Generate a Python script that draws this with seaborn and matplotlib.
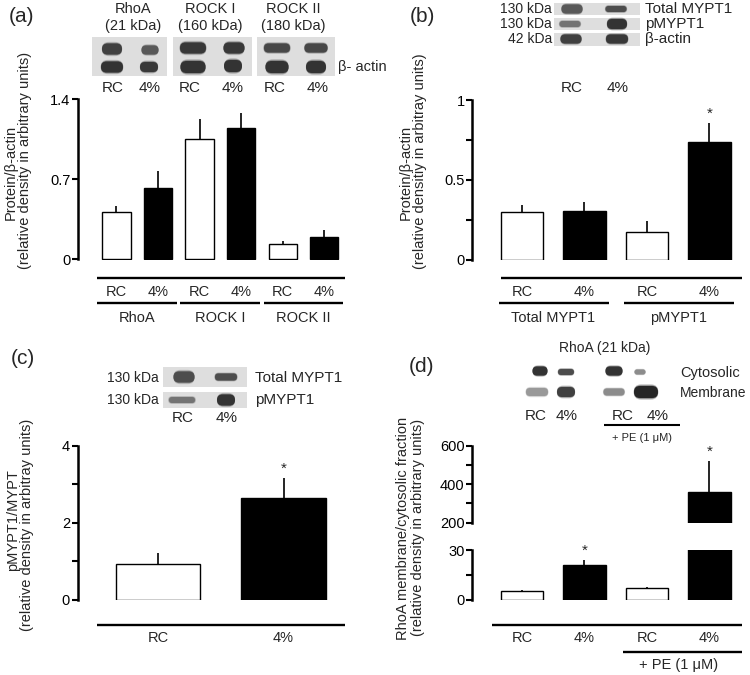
import numpy as np
import pandas as pd
import matplotlib
matplotlib.use('Agg')
import matplotlib.pyplot as plt
import seaborn as sns
from matplotlib import transforms
from matplotlib.patches import FancyBboxPatch, Rectangle
from matplotlib.ticker import FixedLocator

sns.set_style('ticks')
plt.rcParams['font.family'] = ['Liberation Sans', 'DejaVu Sans']

# ---------------- data ----------------
a_labels = ['RC', '4%', 'RC', '4%', 'RC', '4%']
a_groups = ['RhoA', 'ROCK I', 'ROCK II']
a_values = [0.415, 0.623, 1.055, 1.148, 0.136, 0.197]
a_sem = [0.052, 0.154, 0.177, 0.130, 0.026, 0.061]
a_yticks = [0, 0.7, 1.4]
a_yticklabels = ['0', '0.7', '1.4']

b_labels = ['RC', '4%', 'RC', '4%']
b_groups = ['Total MYPT1', 'pMYPT1']
b_values = [0.297, 0.304, 0.173, 0.736]
b_sem = [0.042, 0.058, 0.070, 0.118]
b_sig = [False, False, False, True]
b_yticks = [0, 0.5, 1]
b_yticklabels = ['0', '0.5', '1']
b_minor = [0.25, 0.75]

c_labels = ['RC', '4%']
c_values = [0.914, 2.638]
c_sem = [0.293, 0.517]
c_sig = [False, True]
c_yticks = [0, 2, 4]
c_yticklabels = ['0', '2', '4']
c_minor = [1, 3]

d_labels = ['RC', '4%', 'RC', '4%']
d_group = '+ PE (1 \u03bcM)'
d_values = [5.6, 20.7, 7.0, 359.0]
d_sem = [0.6, 3.3, 0.9, 163.0]
d_sig = [False, True, False, True]
d_low_ticks = [0, 30]
d_low_minor = [15]
d_up_ticks = [200, 400, 600]
d_up_minor = [300, 500]

W, H = 750, 675
fig = plt.figure(figsize=(7.5, 6.75), dpi=100)

# overlay in pixel coordinates for blots and free text
ov = fig.add_axes([0, 0, 1, 1], zorder=0)
ov.set_xlim(0, W)
ov.set_ylim(H, 0)
ov.axis('off')


def px_axes(x0, x1, ytop, ybot):
    ax = fig.add_axes([x0 / W, 1 - ybot / H, (x1 - x0) / W, (ybot - ytop) / H], zorder=2)
    ax.patch.set_alpha(0)
    return ax


def draw_bars(ax, labels, values, sem, width):
    ids = [str(i) for i in range(len(values))]
    df = pd.DataFrame({'bar': ids, 'value': values})
    colors = ['white' if l == 'RC' else 'black' for l in labels]
    sns.barplot(data=df, x='bar', y='value', hue='bar', palette=colors, legend=False,
                width=width, edgecolor='black', linewidth=1.0, saturation=1,
                errorbar=None, ax=ax)
    ax.errorbar(range(len(values)), values, yerr=[np.zeros(len(values)), sem],
                fmt='none', ecolor='black', elinewidth=1.2, capsize=0, zorder=1)


def style(ax, xlim, ylim, bounds, ticks, ticklabels, minor=None):
    ax.set_xlim(*xlim)
    ax.set_ylim(*ylim)
    for s in ['top', 'right', 'bottom']:
        ax.spines[s].set_visible(False)
    ax.spines['left'].set_linewidth(1.8)
    ax.spines['left'].set_color('black')
    ax.spines['left'].set_bounds(*bounds)
    ax.set_yticks(ticks)
    ax.set_yticklabels(ticklabels)
    if minor:
        ax.yaxis.set_minor_locator(FixedLocator(minor))
    ax.tick_params(axis='y', which='both', direction='out', length=4.5, width=1.5,
                   left=True, pad=1, labelsize=10.5, colors='black')
    ax.set_xticks([])
    ax.set_xlabel('')
    ax.set_ylabel('')


def xtext(ax, x, ypx, s, fs=10.5):
    tr = transforms.blended_transform_factory(ax.transData, fig.transFigure)
    ax.text(x, 1 - ypx / H, s, transform=tr, ha='center', va='center',
            fontsize=fs, clip_on=False)


def xline(ax, x0, x1, ypx, lw=1.7):
    tr = transforms.blended_transform_factory(ax.transData, fig.transFigure)
    ax.plot([x0, x1], [1 - ypx / H] * 2, transform=tr, color='black', lw=lw,
            clip_on=False, solid_capstyle='butt')


def stars(ax, values, sem, sig, fs=11):
    for i, (v, s, g) in enumerate(zip(values, sem, sig)):
        if g:
            ax.annotate('*', xy=(i, v + s), xytext=(0, 1.5), textcoords='offset points',
                        ha='center', va='bottom', fontsize=fs, annotation_clip=False)


# ---------------- panel (a) ----------------
axa = px_axes(78, 345, 99.3, 260.3)
draw_bars(axa, a_labels, a_values, a_sem, 0.68)
style(axa, (-0.925, 5.5), (-0.007, 1.4), (0, 1.4), a_yticks, a_yticklabels)
xline(axa, -0.47, len(a_values) - 1 + 0.49, 278)
for i, l in enumerate(a_labels):
    xtext(axa, i, 292, l)
for g, name in enumerate(a_groups):
    mid = 2 * g + 0.5
    xline(axa, mid - 0.96, mid + 0.96, 303)
    xtext(axa, mid, 318, name)

# ---------------- panel (b) ----------------
axb = px_axes(472.3, 742, 100, 260.3)
draw_bars(axb, b_labels, b_values, b_sem, 0.68)
style(axb, (-0.795, 3.52), (-0.005, 1.0), (0, 1), b_yticks, b_yticklabels, b_minor)
stars(axb, b_values, b_sem, b_sig)
xline(axb, -0.34, 3.52, 278)
for i, l in enumerate(b_labels):
    xtext(axb, i, 292, l)
for g, name in enumerate(b_groups):
    mid = 2 * g + 0.5
    xline(axb, mid - 0.86, mid + 0.9, 303)
    xtext(axb, mid, 318, name)

# ---------------- panel (c) ----------------
axc = px_axes(77.7, 345, 445.7, 600.3)
draw_bars(axc, c_labels, c_values, c_sem, 0.67)
style(axc, (-0.64, 1.49), (-0.02, 4), (0, 4), c_yticks, c_yticklabels, c_minor)
stars(axc, c_values, c_sem, c_sig)
xline(axc, -0.49, 1.49, 625)
for i, l in enumerate(c_labels):
    xtext(axc, i, 638, l)

# ---------------- panel (d) broken axis ----------------
axd_lo = px_axes(472.3, 742, 550, 600.3)
axd_up = px_axes(472.3, 742, 445.7, 522.7)
for ax in (axd_lo, axd_up):
    draw_bars(ax, d_labels, d_values, d_sem, 0.68)
style(axd_lo, (-0.795, 3.52), (-0.3, 30), (0, 30), d_low_ticks, ['0', '30'], d_low_minor)
style(axd_up, (-0.795, 3.52), (200, 600), (200, 600), d_up_ticks, ['200', '400', '600'], d_up_minor)
for i, (v, s, g) in enumerate(zip(d_values, d_sem, d_sig)):
    if g:
        ax = axd_up if v + s > 30 else axd_lo
        ax.annotate('*', xy=(i, v + s), xytext=(0, 1.5), textcoords='offset points',
                    ha='center', va='bottom', fontsize=11, annotation_clip=False)
xline(axd_lo, -0.48, 3.52, 625)
for i, l in enumerate(d_labels):
    xtext(axd_lo, i, 638, l)
xline(axd_lo, 1.62, 3.52, 652)
xtext(axd_lo, 2.5, 665, d_group, fs=10.5)

# ---------------- y labels ----------------
ylab_fs = 10.5
ov.text(11, 172, 'Protein/\u03b2-actin', rotation=90, ha='center', va='center', fontsize=ylab_fs)
ov.text(25, 160, '(relative density in arbitrary units)', rotation=90, ha='center', va='center', fontsize=ylab_fs)
ov.text(406, 172, 'Protein/\u03b2-actin', rotation=90, ha='center', va='center', fontsize=ylab_fs)
ov.text(420, 161, '(relative densitiy in arbitray units)', rotation=90, ha='center', va='center', fontsize=ylab_fs)
ov.text(13, 520, 'pMYPT1/MYPT', rotation=90, ha='center', va='center', fontsize=ylab_fs)
ov.text(27, 525, '(relative density in arbitray units)', rotation=90, ha='center', va='center', fontsize=ylab_fs)
ov.text(403, 528, 'RhoA membrane/cytosolic fraction', rotation=90, ha='center', va='center', fontsize=ylab_fs)
ov.text(418, 527, '(relative density in arbitrary units)', rotation=90, ha='center', va='center', fontsize=ylab_fs)

# ---------------- panel letters ----------------
for s, x, y in [('(a)', 21, 17), ('(b)', 422, 17), ('(c)', 23, 359), ('(d)', 422, 366)]:
    ov.text(x, y, s, ha='center', va='center', fontsize=15)

# ---------------- blots ----------------
strip_color = '#dedede'
blot_strips = [(92, 37, 75, 39), (173, 37, 79, 39), (257, 37, 78, 39),
               (554, 3, 86, 12), (554, 18, 86, 12), (554, 33, 86, 13),
               (163, 367, 84, 20), (163, 392, 84, 16)]
blot_bands = [
    # panel a
    (112, 49, 31, 11, 0.25), (150, 50, 26, 9, 0.35),
    (112, 67, 33, 11, 0.2), (149, 67, 28, 10, 0.22),
    (193, 48, 37, 11, 0.22), (234, 48, 32, 11, 0.22),
    (193, 67, 37, 12, 0.2), (233, 66, 30, 12, 0.2),
    (277, 48, 35, 9, 0.28), (316, 48, 32, 9, 0.28),
    (277, 67, 35, 12, 0.2), (316, 67, 32, 12, 0.2),
    # panel b
    (572, 9, 30, 9, 0.35), (616, 9, 27, 6, 0.3),
    (570, 24, 27, 6, 0.45), (617, 24, 30, 10, 0.2),
    (571, 39, 30, 9, 0.25), (617, 39, 31, 9, 0.22),
    # panel c
    (184, 377, 32, 11, 0.3), (226, 377, 29, 7, 0.3),
    (182, 400, 32, 6, 0.45), (226, 400, 29, 11, 0.2),
    # panel d
    (540, 371, 24, 9, 0.2), (566, 372, 22, 6, 0.3), (614, 371, 26, 9, 0.2), (640, 372, 16, 5, 0.55),
    (537, 392, 30, 8, 0.6), (566, 392, 28, 10, 0.25), (614, 392, 28, 7, 0.55), (646, 392, 36, 12, 0.15),
]
for x, y, w, h in blot_strips:
    ov.add_patch(Rectangle((x, y), w, h, facecolor=strip_color, edgecolor='none'))
for cx, cy, w, h, g in blot_bands:
    for k, a in [(1.3, 0.25), (1.12, 0.45), (1.0, 1.0)]:
        ww, hh = w * (1 + (k - 1) * 0.4), h * k
        ov.add_patch(FancyBboxPatch((cx - ww / 2 + hh / 2, cy - hh / 2), ww - hh, hh,
                                    boxstyle='round,pad=0,rounding_size=%f' % (hh / 2),
                                    mutation_aspect=1, facecolor=str(g), edgecolor='none', alpha=a))

# blot texts
for s, x in [('RhoA', 133), ('ROCK I', 210), ('ROCK II', 293)]:
    ov.text(x, 9, s, ha='center', va='center', fontsize=10.5)
for s, x in [('(21 kDa)', 133), ('(160 kDa)', 210), ('(180 kDa)', 293)]:
    ov.text(x, 26, s, ha='center', va='center', fontsize=10.5)
ov.text(338, 67, '\u03b2- actin', ha='left', va='center', fontsize=10.5)
for s, x in zip(a_labels, [113, 150, 190, 233, 275, 318]):
    ov.text(x, 88, s, ha='center', va='center', fontsize=11)

for s, y in [('130 kDa', 9), ('130 kDa', 24), ('42 kDa', 39)]:
    ov.text(552, y, s, ha='right', va='center', fontsize=10)
for s, y in [('Total MYPT1', 9), ('pMYPT1', 24), ('\u03b2-actin', 39)]:
    ov.text(645, y, s, ha='left', va='center', fontsize=11)
for s, x in zip(['RC', '4%'], [572, 618]):
    ov.text(x, 88, s, ha='center', va='center', fontsize=11)

for s, y in [('130 kDa', 378), ('130 kDa', 400)]:
    ov.text(159, y, s, ha='right', va='center', fontsize=10)
for s, y in [('Total MYPT1', 378), ('pMYPT1', 400)]:
    ov.text(255, y, s, ha='left', va='center', fontsize=11)
for s, x in zip(['RC', '4%'], [183, 227]):
    ov.text(x, 418, s, ha='center', va='center', fontsize=11)

ov.text(605, 348, 'RhoA (21 kDa)', ha='center', va='center', fontsize=10)
ov.text(680, 373, 'Cytosolic', ha='left', va='center', fontsize=10.5)
ov.text(680, 393, 'Membrane', ha='left', va='center', fontsize=10)
for s, x in zip(['RC', '4%', 'RC', '4%'], [536, 567, 623, 658]):
    ov.text(x, 416, s, ha='center', va='center', fontsize=11)
ov.plot([604, 680], [425, 425], color='black', lw=1.5, solid_capstyle='butt')
ov.text(642, 438, d_group, ha='center', va='center', fontsize=8)

fig.savefig('out.png', dpi=100)
